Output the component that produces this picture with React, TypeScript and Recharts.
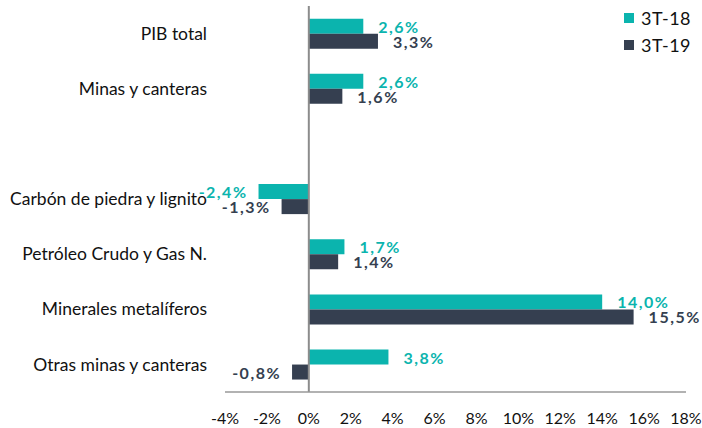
import { BarChart, Bar, XAxis, YAxis, LabelList, ReferenceLine } from 'recharts';

if (typeof document !== 'undefined') {
  document.body.style.margin = '0';
}

const categories = [
  'PIB total',
  'Minas y canteras',
  ' ',
  'Carbón de piedra y lignito',
  'Petróleo Crudo y Gas N.',
  'Minerales metalíferos',
  'Otras minas y canteras',
];
const serie18 = [2.6, 2.6, null, -2.4, 1.7, 14.0, 3.8];
const serie19 = [3.3, 1.6, null, -1.3, 1.4, 15.5, -0.8];
const xTicks = [-4, -2, 0, 2, 4, 6, 8, 10, 12, 14, 16, 18];
const seriesNames = ['3T-18', '3T-19'];

const TEAL = '#0BB4AE';
const DARK = '#353F50';
const FONT = 'Lato, "Open Sans", sans-serif';

const data = categories.map((name, i) => ({
  name,
  t18: serie18[i],
  t19: serie19[i],
}));

const fmt = (v: number | null) =>
  v == null ? '' : `${v.toFixed(1).replace('.', ',')}%`;

function ValueLabel(props: any) {
  const { x, y, width, height, value, fill } = props;
  if (value == null) return null;
  const neg = value < 0;
  const tx = neg ? Math.min(x, x + width) - 11 : x + width + 15;
  return (
    <text
      x={tx}
      y={y + height / 2}
      fill={fill}
      textAnchor={neg ? 'end' : 'start'}
      dominantBaseline="central"
      fontSize={16}
      fontWeight={700}
      letterSpacing={1.5}
      fontFamily={FONT}
    >
      {fmt(value)}
    </text>
  );
}

function LegendBox() {
  const colors = [TEAL, DARK];
  return (
    <div style={{ position: 'absolute', top: 4, left: 624, fontFamily: FONT }}>
      {seriesNames.map((label, i) => (
        <div
          key={label}
          style={{ display: 'flex', alignItems: 'center', height: 27, fontSize: 18, color: '#111' }}
        >
          <span style={{ width: 10, height: 10, background: colors[i], marginRight: 7, display: 'inline-block' }} />
          <span style={{ letterSpacing: 0.5 }}>{label}</span>
        </div>
      ))}
    </div>
  );
}

export default function App() {
  return (
    <div style={{ position: 'relative', width: 702, height: 428 }}>
      <BarChart
        width={702}
        height={428}
        data={data}
        layout="vertical"
        margin={{ top: 6, right: 16, left: 0, bottom: 6 }}
        barCategoryGap="23%"
        barGap={0}
      >
        <XAxis
          type="number"
          domain={[-4, 18]}
          ticks={xTicks}
          tickFormatter={(v: number) => `${v}%`}
          tickLine={false}
          tickMargin={15}
          axisLine={{ stroke: '#999', strokeWidth: 1.5 }}
          tick={{ fill: '#111', fontSize: 16, fontFamily: FONT }}
          interval={0}
          height={30}
        />
        <YAxis
          type="category"
          dataKey="name"
          width={225}
          axisLine={false}
          tickLine={false}
          tickMargin={12}
          tick={{ fill: '#111', fontSize: 17.5, fontFamily: FONT }}
          interval={0}
        />
        <ReferenceLine x={0} stroke="#8c8c8c" strokeWidth={2} />
        <Bar dataKey="t18" name={seriesNames[0]} fill={TEAL} isAnimationActive={false}>
          <LabelList dataKey="t18" content={(p: any) => <ValueLabel {...p} fill={TEAL} />} />
        </Bar>
        <Bar dataKey="t19" name={seriesNames[1]} fill={DARK} isAnimationActive={false}>
          <LabelList dataKey="t19" content={(p: any) => <ValueLabel {...p} fill={DARK} />} />
        </Bar>
      </BarChart>
      <LegendBox />
    </div>
  );
}
